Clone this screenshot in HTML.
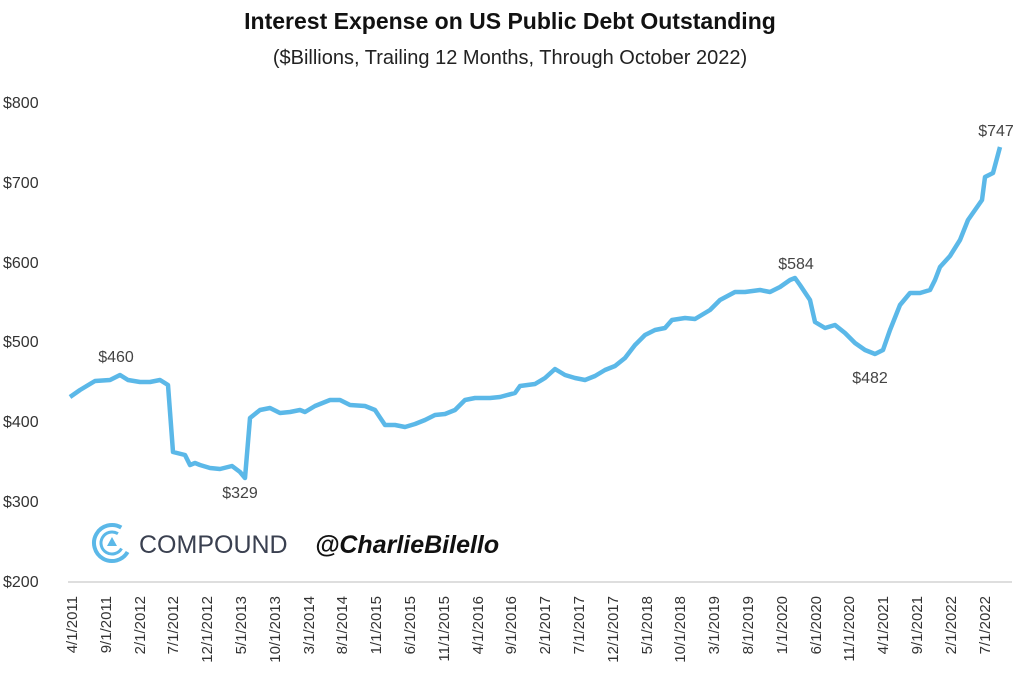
<!DOCTYPE html>
<html><head><meta charset="utf-8"><style>
body{margin:0;background:#fff;width:1024px;height:687px;overflow:hidden;font-family:"Liberation Sans",sans-serif}
</style></head><body>
<svg width="1024" height="687" xmlns="http://www.w3.org/2000/svg" font-family="Liberation Sans, sans-serif">
<text x="510" y="29" text-anchor="middle" font-size="23" font-weight="bold" fill="#111">Interest Expense on US Public Debt Outstanding</text>
<text x="510" y="64" text-anchor="middle" font-size="20" fill="#222">($Billions, Trailing 12 Months, Through October 2022)</text>
<g font-size="16" fill="#333" text-anchor="start">
<text x="3" y="108">$800</text><text x="3" y="188">$700</text><text x="3" y="268">$600</text>
<text x="3" y="347">$500</text><text x="3" y="427">$400</text><text x="3" y="507">$300</text><text x="3" y="587">$200</text>
</g>
<line x1="68" y1="582" x2="1012" y2="582" stroke="#d4d4d4" stroke-width="1.5"/>
<polyline fill="none" stroke="#5bb8e8" stroke-width="4.5" stroke-linejoin="round" points="70,397 80,390 95,381 110,380 120,375 128,380 140,382 150,382 160,380 168,385 173,452 185,455 190,465 195,463 200,465 210,468 220,469 232,466 240,472 245,478 250,418 260,410 270,408 280,413 290,412 300,410 305,412 315,406 330,400 340,400 350,405 365,406 375,410 385,425 395,425 405,427 415,424 425,420 435,415 445,414 455,410 465,400 475,398 490,398 500,397 515,393 520,386 535,384 545,378 555,369 565,375 575,378 585,380 595,376 605,370 615,366 625,358 635,345 645,335 655,330 665,328 672,320 685,318 695,319 710,310 720,300 735,292 745,292 760,290 770,292 780,287 790,280 795,278 800,285 810,300 815,322 825,328 835,325 845,333 855,343 865,350 875,354 883,350 890,330 900,305 910,293 920,293 930,290 935,280 940,267 950,256 960,240 968,220 975,210 982,200 985,177 993,173 1000,147"/>
<g font-size="16" fill="#444" text-anchor="middle">
<text x="116" y="362">$460</text><text x="240" y="498">$329</text><text x="796" y="269">$584</text><text x="870" y="383">$482</text><text x="996" y="136">$747</text>
</g>
<circle cx="112" cy="543" r="18" fill="none" stroke="#5bb8e8" stroke-width="4" stroke-dasharray="85 30" transform="rotate(30 112 543)"/>
<circle cx="112" cy="543" r="11" fill="none" stroke="#5bb8e8" stroke-width="3" stroke-dasharray="52 18" transform="rotate(30 112 543)"/>
<polygon points="112,537 117,546 107,546" fill="#5bb8e8"/>
<text x="139" y="553" font-size="25" fill="#3a4050">COMPOUND</text>
<text x="315" y="553" font-size="25" font-style="italic" font-weight="bold" fill="#111">@CharlieBilello</text>
<g font-size="15" fill="#333">
<text transform="translate(77,596) rotate(-90)" text-anchor="end">4/1/2011</text>
<text transform="translate(111,596) rotate(-90)" text-anchor="end">9/1/2011</text>
<text transform="translate(145,596) rotate(-90)" text-anchor="end">2/1/2012</text>
<text transform="translate(178,596) rotate(-90)" text-anchor="end">7/1/2012</text>
<text transform="translate(212,596) rotate(-90)" text-anchor="end">12/1/2012</text>
<text transform="translate(246,596) rotate(-90)" text-anchor="end">5/1/2013</text>
<text transform="translate(280,596) rotate(-90)" text-anchor="end">10/1/2013</text>
<text transform="translate(314,596) rotate(-90)" text-anchor="end">3/1/2014</text>
<text transform="translate(347,596) rotate(-90)" text-anchor="end">8/1/2014</text>
<text transform="translate(381,596) rotate(-90)" text-anchor="end">1/1/2015</text>
<text transform="translate(415,596) rotate(-90)" text-anchor="end">6/1/2015</text>
<text transform="translate(449,596) rotate(-90)" text-anchor="end">11/1/2015</text>
<text transform="translate(483,596) rotate(-90)" text-anchor="end">4/1/2016</text>
<text transform="translate(516,596) rotate(-90)" text-anchor="end">9/1/2016</text>
<text transform="translate(550,596) rotate(-90)" text-anchor="end">2/1/2017</text>
<text transform="translate(584,596) rotate(-90)" text-anchor="end">7/1/2017</text>
<text transform="translate(618,596) rotate(-90)" text-anchor="end">12/1/2017</text>
<text transform="translate(652,596) rotate(-90)" text-anchor="end">5/1/2018</text>
<text transform="translate(685,596) rotate(-90)" text-anchor="end">10/1/2018</text>
<text transform="translate(719,596) rotate(-90)" text-anchor="end">3/1/2019</text>
<text transform="translate(753,596) rotate(-90)" text-anchor="end">8/1/2019</text>
<text transform="translate(787,596) rotate(-90)" text-anchor="end">1/1/2020</text>
<text transform="translate(821,596) rotate(-90)" text-anchor="end">6/1/2020</text>
<text transform="translate(854,596) rotate(-90)" text-anchor="end">11/1/2020</text>
<text transform="translate(888,596) rotate(-90)" text-anchor="end">4/1/2021</text>
<text transform="translate(922,596) rotate(-90)" text-anchor="end">9/1/2021</text>
<text transform="translate(956,596) rotate(-90)" text-anchor="end">2/1/2022</text>
<text transform="translate(990,596) rotate(-90)" text-anchor="end">7/1/2022</text>
</g>
</svg>
</body></html>
